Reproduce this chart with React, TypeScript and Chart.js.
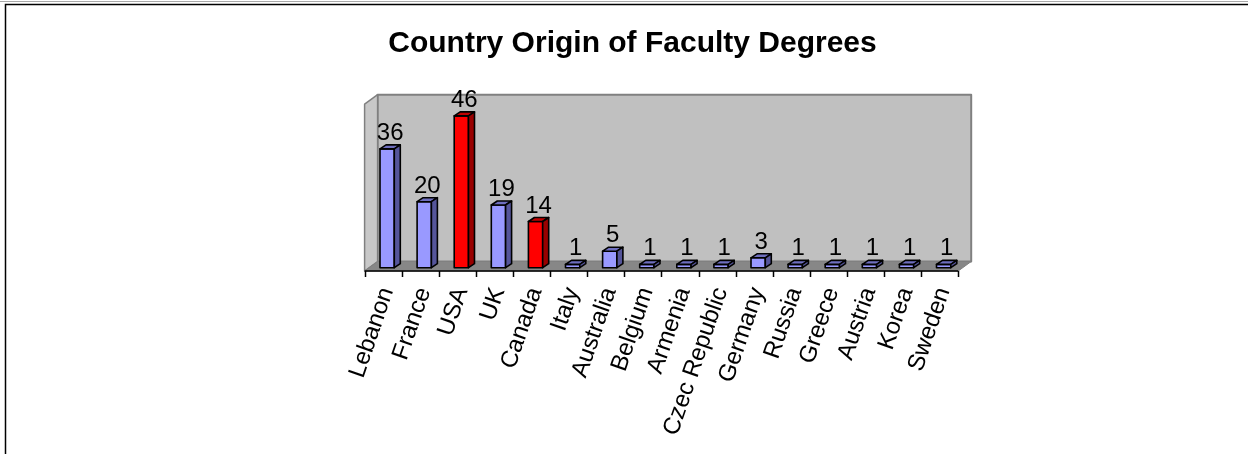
import React, { useEffect, useRef } from 'react';
import { Chart, registerables } from 'chart.js';

Chart.register(...registerables);

const chartTitle = 'Country Origin of Faculty Degrees';
const categories = [
  'Lebanon', 'France', 'USA', 'UK', 'Canada', 'Italy', 'Australia', 'Belgium',
  'Armenia', 'Czec Republic', 'Germany', 'Russia', 'Greece', 'Austria', 'Korea', 'Sweden',
];
const degreeCounts = [36, 20, 46, 19, 14, 1, 5, 1, 1, 1, 3, 1, 1, 1, 1, 1];
const highlightedCountries = ['USA', 'Canada'];
const valueAxisMin = 0;
const valueAxisMax = 50;

const FONT = '"Liberation Sans", Arial, Helvetica, sans-serif';
const BLUE = { front: '#9999FF', top: '#6E6EBE', side: '#55559A' };
const RED = { front: '#FF0000', top: '#C00000', side: '#990000' };

const palette = (i: number) => (highlightedCountries.includes(categories[i]) ? RED : BLUE);

const WALL_DX = 13;
const WALL_DY = -9.5;
const BAR_DX = 6;
const BAR_DY = -4;

function poly(ctx: CanvasRenderingContext2D, pts: number[][], fill: string, stroke: string, lw: number) {
  ctx.beginPath();
  ctx.moveTo(pts[0][0], pts[0][1]);
  for (let k = 1; k < pts.length; k++) ctx.lineTo(pts[k][0], pts[k][1]);
  ctx.closePath();
  ctx.fillStyle = fill;
  ctx.fill();
  ctx.strokeStyle = stroke;
  ctx.lineWidth = lw;
  ctx.lineJoin = 'round';
  ctx.stroke();
}

const scenePlugin = {
  id: 'scene3d',
  beforeDraw(chart: any) {
    const { ctx, chartArea: a, width, height } = chart;
    ctx.save();
    ctx.fillStyle = '#ffffff';
    ctx.fillRect(0, 0, width, height);

    // outer frame
    ctx.strokeStyle = '#a8a8a8';
    ctx.lineWidth = 1;
    ctx.beginPath();
    ctx.moveTo(0, 1.5);
    ctx.lineTo(width, 1.5);
    ctx.stroke();
    ctx.strokeStyle = '#000000';
    ctx.lineWidth = 1.5;
    ctx.beginPath();
    ctx.moveTo(5.5, height);
    ctx.lineTo(5.5, 4.5);
    ctx.lineTo(width, 4.5);
    ctx.stroke();

    // title
    ctx.fillStyle = '#000000';
    ctx.font = `bold 30px ${FONT}`;
    ctx.textAlign = 'center';
    ctx.textBaseline = 'alphabetic';
    ctx.fillText(chartTitle, 632.5, 51.5);

    // walls & floor
    const fx0 = a.left - 4;
    const fx1 = a.right - 4;
    const fyB = a.bottom + 3.3;
    const fyT = a.top + 1.5;
    const dx = WALL_DX;
    const dy = WALL_DY;
    poly(ctx, [[fx0 + dx, fyT + dy], [fx1 + dx, fyT + dy], [fx1 + dx, fyB + dy], [fx0 + dx, fyB + dy]], '#C0C0C0', '#808080', 2);
    poly(ctx, [[fx0, fyT], [fx0 + dx, fyT + dy], [fx0 + dx, fyB + dy], [fx0, fyB]], '#C8C8C8', '#808080', 1.5);
    poly(ctx, [[fx0, fyB], [fx0 + dx, fyB + dy], [fx1 + dx, fyB + dy], [fx1, fyB]], '#878787', '#808080', 1);

    // category axis line and tick marks
    ctx.strokeStyle = '#000000';
    ctx.lineWidth = 1.5;
    ctx.beginPath();
    ctx.moveTo(fx0, fyB);
    ctx.lineTo(fx1, fyB);
    const n = categories.length;
    for (let i = 0; i <= n; i++) {
      const x = Math.round(fx0 + (i * (fx1 - fx0)) / n) + 0.5;
      ctx.moveTo(x, fyB);
      ctx.lineTo(x, fyB + 6);
    }
    ctx.stroke();
    ctx.restore();
  },
  afterDatasetsDraw(chart: any) {
    const { ctx } = chart;
    const meta = chart.getDatasetMeta(0);
    ctx.save();
    meta.data.forEach((bar: any, i: number) => {
      const { x, y, base, width } = bar.getProps(['x', 'y', 'base', 'width'], true);
      const l = x - width / 2;
      const r = x + width / 2;
      const c = palette(i);
      poly(ctx, [[l, y], [r, y], [r, base], [l, base]], c.front, '#000000', 1.6);
      poly(ctx, [[l, y], [l + BAR_DX, y + BAR_DY], [r + BAR_DX, y + BAR_DY], [r, y]], c.top, '#000000', 1.6);
      poly(ctx, [[r, y], [r + BAR_DX, y + BAR_DY], [r + BAR_DX, base + BAR_DY], [r, base]], c.side, '#000000', 1.6);

      ctx.fillStyle = '#000000';
      ctx.font = `24px ${FONT}`;
      ctx.textAlign = 'center';
      ctx.textBaseline = 'alphabetic';
      ctx.fillText(String(degreeCounts[i]), x + 3, y - 9);
    });
    ctx.restore();
  },
};

export default function App() {
  const canvasRef = useRef<HTMLCanvasElement | null>(null);

  useEffect(() => {
    const canvas = canvasRef.current;
    if (!canvas) return;
    const chart = new Chart(canvas, {
      type: 'bar',
      data: {
        labels: categories,
        datasets: [
          {
            label: 'Degrees',
            data: degreeCounts,
            backgroundColor: categories.map((_, i) => palette(i).front),
            borderColor: '#000000',
            borderWidth: 0,
            barPercentage: 0.385,
            categoryPercentage: 1,
          },
        ],
      },
      options: {
        animation: false,
        responsive: false,
        devicePixelRatio: 1,
        layout: { padding: { left: 368.6, right: 285.8, top: 102.7, bottom: 0 } },
        plugins: {
          legend: { display: false },
          title: { display: false },
          tooltip: { enabled: false },
        },
        scales: {
          x: {
            grid: { display: false },
            border: { display: false },
            ticks: {
              autoSkip: false,
              minRotation: 71,
              maxRotation: 71,
              padding: 8,
              labelOffset: 0,
              color: '#000000',
              font: { family: FONT, size: 24 },
            },
            afterFit: (axis: any) => {
              axis.height = 454 - 267.7;
            },
          },
          y: {
            display: false,
            min: valueAxisMin,
            max: valueAxisMax,
          },
        },
      },
      plugins: [scenePlugin],
    });
    return () => chart.destroy();
  }, []);

  return (
    <div style={{ position: 'fixed', left: 0, top: 0, width: 1248, height: 454, background: '#fff' }}>
      <canvas ref={canvasRef} width={1248} height={454} style={{ display: 'block' }} />
    </div>
  );
}
